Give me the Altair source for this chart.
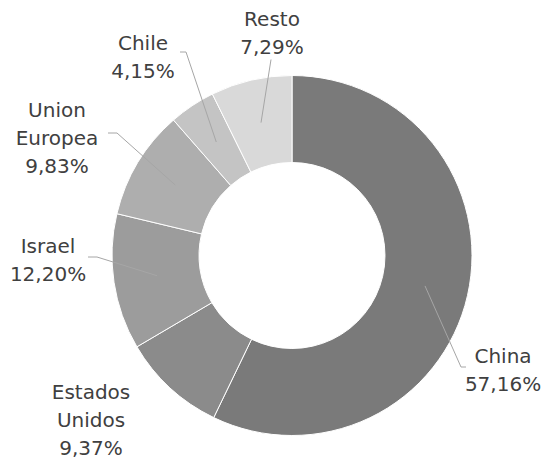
import altair as alt
import pandas as pd
import math

# ---- data ----
names = ["China", "Estados Unidos", "Israel", "Union Europea", "Chile", "Resto"]
shares = [57.16, 9.37, 12.20, 9.83, 4.15, 7.29]
label_lines = [["China"], ["Estados", "Unidos"], ["Israel"], ["Union", "Europea"], ["Chile"], ["Resto"]]
colors = ["#7a7a7a", "#8b8b8b", "#9c9c9c", "#aeaeae", "#c4c4c4", "#d9d9d9"]

# ---- label layout (px offsets from pie centre, y up) ----
label_anchor = {
    "China": (211, -107.5),
    "Estados Unidos": (-201, -143.5),
    "Israel": (-244, 2.5),
    "Union Europea": (-235, 138.5),
    "Chile": (-149, 205.5),
    "Resto": (-20, 230),
}
leader_pts = {
    "China": [(169, -111.5), (174, -111.5)],
    "Israel": [(-195, -1.5), (-204, -1.5)],
    "Union Europea": [(-175, 122.5), (-184, 122.5)],
    "Chile": [(-106, 203.5), (-112, 203.5)],
    "Resto": [(-21, 196)],
}

R_OUT = 180
R_IN = 93
LINE_H = 28
FONT = "DejaVu Sans"
FS = 20

def pct(v):
    return f"{v:.2f}".replace(".", ",") + "%"

pie = pd.DataFrame({"name": names, "share": shares, "idx": range(len(names))})

# text rows
rows = []
for n, v, lines in zip(names, shares, label_lines):
    ax, ay = label_anchor[n]
    for k, t in enumerate(lines + [pct(v)]):
        rows.append({"name": n, "text": t, "x": ax, "y": ay - k * LINE_H})
txt = pd.DataFrame(rows)

# leader lines, starting at mid-angle of each slice, middle of the ring
total = sum(shares)
cum = 0
lrows = []
r_mid = 0.758 * R_OUT
for n, v in zip(names, shares):
    mid = (cum + v / 2) / total * 2 * math.pi
    cum += v
    if n not in leader_pts:
        continue
    pts = [(r_mid * math.sin(mid), r_mid * math.cos(mid))] + leader_pts[n]
    for k, (px, py) in enumerate(pts):
        lrows.append({"name": n, "k": k, "x": px, "y": py})
lead = pd.DataFrame(lrows)

xs = alt.Scale(domain=[-R_OUT, R_OUT])
ys = alt.Scale(domain=[-R_OUT, R_OUT])

arcs = alt.Chart(pie).mark_arc(radius=R_OUT, innerRadius=R_IN, stroke="white", strokeWidth=1).encode(
    theta=alt.Theta("share:Q", stack=True),
    order=alt.Order("idx:Q"),
    color=alt.Color("name:N", scale=alt.Scale(domain=names, range=colors), legend=None),
)

leaders = alt.Chart(lead).mark_line(color="#a6a6a6", strokeWidth=1).encode(
    x=alt.X("x:Q", scale=xs, axis=None),
    y=alt.Y("y:Q", scale=ys, axis=None),
    detail="name:N",
    order="k:Q",
)

labels = alt.Chart(txt).mark_text(font=FONT, fontSize=FS, color="#404040", align="center", baseline="alphabetic").encode(
    x=alt.X("x:Q", scale=xs, axis=None),
    y=alt.Y("y:Q", scale=ys, axis=None),
    text="text:N",
)

chart = alt.layer(arcs, leaders, labels).properties(
    width=2 * R_OUT, height=2 * R_OUT,
    autosize=alt.AutoSizeParams(type="none"),
    padding={"left": 104, "top": 67.5, "right": 70, "bottom": 24.5},
).configure_view(stroke=None)

chart.save("out.html", embed_options={"renderer": "svg", "actions": False})
